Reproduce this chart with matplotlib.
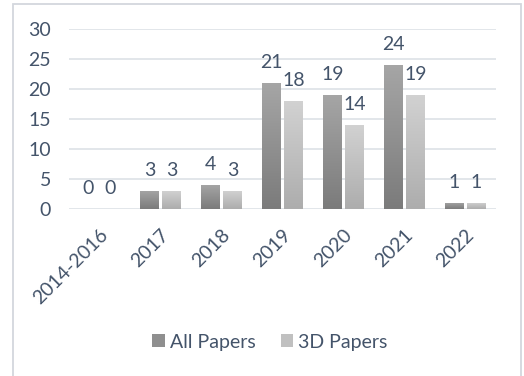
import matplotlib.pyplot as plt
import numpy as np
from matplotlib.colors import LinearSegmentedColormap
from matplotlib.patches import Rectangle, Patch

# publicaciones por periodo
categorias = ['2014-2016', '2017', '2018', '2019', '2020', '2021', '2022']
all_papers = [0, 3, 4, 21, 19, 24, 1]
papers_3d = [0, 3, 3, 18, 14, 19, 1]
series = ['All Papers', '3D Papers']

texto = '#44546A'
plt.rcParams['font.family'] = ['Lato', 'DejaVu Sans']

fig = plt.figure(figsize=(5.24, 3.76), dpi=100)
ax = fig.add_axes([0.1317, 0.444, 0.815, 0.479])

# marco gris claro alrededor del grafico
fig.patches.append(Rectangle((12.5 / 524, -0.05), (521 - 12.5) / 524, 1.05 - 3.5 / 376,
                             transform=fig.transFigure, fill=False,
                             edgecolor='#d3d7dd', linewidth=1.3))

x = np.arange(len(categorias))
ancho = 0.31
sep = 0.18

# degradado vertical: claro arriba, oscuro abajo
grad_oscuro = LinearSegmentedColormap.from_list('osc', ['#7b7b7b', '#a6a6a6'])
grad_claro = LinearSegmentedColormap.from_list('cla', ['#adadad', '#d2d2d2'])
gradiente = np.linspace(0, 1, 256).reshape(-1, 1)

for valores, dx, cmap, base in [(all_papers, -sep, grad_oscuro, '#8f8f8f'),
                                (papers_3d, sep, grad_claro, '#c0c0c0')]:
    barras = ax.bar(x + dx, valores, width=ancho, color=base, zorder=2)
    for b, v in zip(barras, valores):
        if v > 0:
            b.set_facecolor('none')
            b.set_edgecolor('none')
            im = ax.imshow(gradiente, cmap=cmap, origin='lower', aspect='auto',
                           extent=[b.get_x(), b.get_x() + b.get_width(), 0, v],
                           zorder=2)
            im.set_clip_path(b)
        ax.annotate(str(v), (b.get_x() + b.get_width() / 2, v),
                    xytext=(0, 15), textcoords='offset points',
                    ha='center', va='center', fontsize=14, color=texto)

ax.set_xlim(-0.5, len(categorias) - 0.5)
ax.set_ylim(0, 30)
ax.set_yticks(range(0, 31, 5))
ax.grid(axis='y', color='#dde1e6', linewidth=1.2, zorder=0)
ax.set_axisbelow(True)
for s in ax.spines.values():
    s.set_visible(False)
ax.tick_params(length=0, labelsize=14, colors=texto, pad=13)
ax.tick_params(axis='x', pad=12)
ax.set_xticks(x)
ax.set_xticklabels(categorias, rotation=45, ha='right', va='top',
                   rotation_mode='anchor')

handles = [Patch(facecolor='#8f8f8f'), Patch(facecolor='#c0c0c0')]
fig.legend(handles, series, loc='center', bbox_to_anchor=(0.515, 0.09), ncol=2,
           frameon=False, fontsize=14, labelcolor=texto, handlelength=0.65,
           handleheight=0.65, handletextpad=0.25, columnspacing=1.3)

plt.savefig('out.png', dpi=100)
